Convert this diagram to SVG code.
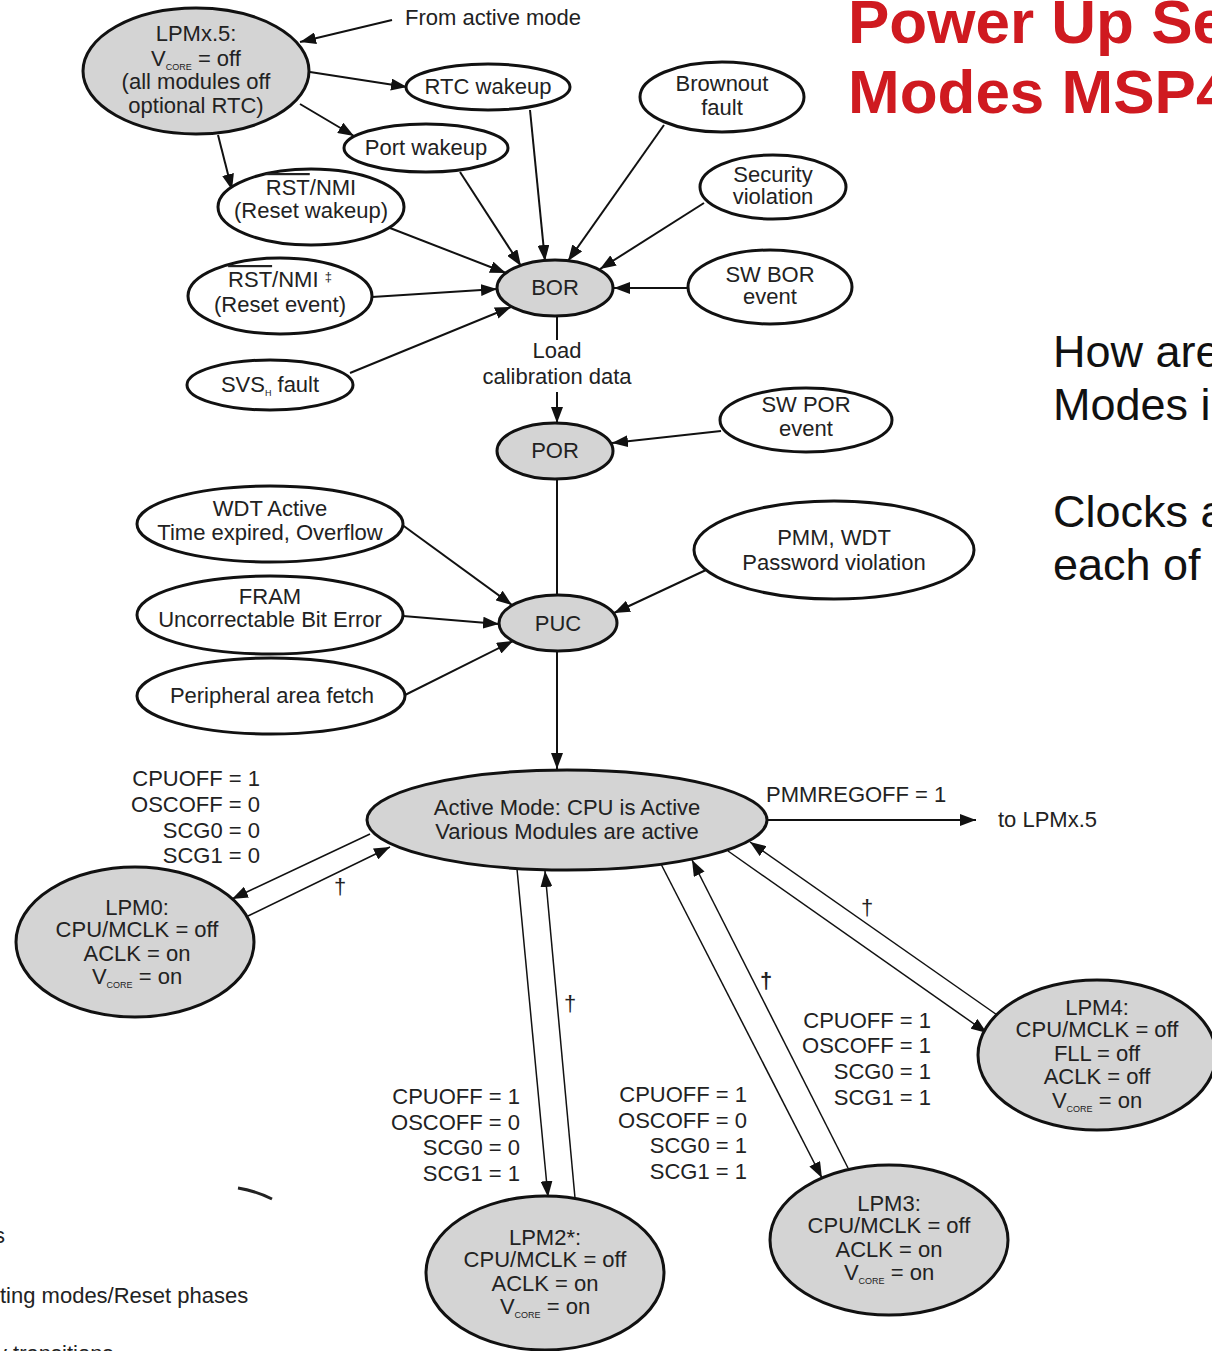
<svg xmlns="http://www.w3.org/2000/svg" width="1212" height="1351" viewBox="0 0 1212 1351">
<style>
text{font-family:"Liberation Sans",Arial,sans-serif;font-size:22px;fill:#222}
.c{text-anchor:middle}
.r{text-anchor:end}
.sub{font-size:9px}
.n{fill:#fff;stroke:#111;stroke-width:3}
.g{fill:#d4d4d4;stroke:#111;stroke-width:3}
.e{stroke:#111;stroke-width:2;fill:none}
.t{stroke:#111;stroke-width:1.5;fill:none}
.a{marker-end:url(#ah)}
.title{font-size:62px;font-weight:bold;fill:#cf1a20}
.side{font-size:45px;fill:#111}
</style>
<defs>
<marker id="ah" viewBox="0 0 16 12" refX="16" refY="6" markerWidth="16" markerHeight="12" markerUnits="userSpaceOnUse" orient="auto">
<path d="M0,0 L16,6 L0,12 z" fill="#111"/>
</marker>
</defs>
<rect width="1212" height="1351" fill="#fff"/>

<g id="connectors">
<line class="e a" x1="392" y1="20" x2="300" y2="42"/>
<line class="e a" x1="310" y1="72" x2="407" y2="87"/>
<line class="e a" x1="300" y1="104" x2="354" y2="136"/>
<line class="e a" x1="218" y1="135" x2="232" y2="190"/>
<line class="e a" x1="530" y1="110" x2="545" y2="261"/>
<line class="e a" x1="460" y1="172" x2="521" y2="266"/>
<line class="e a" x1="664" y1="125" x2="568" y2="261"/>
<line class="e a" x1="704" y1="203" x2="600" y2="269"/>
<line class="e a" x1="390" y1="228" x2="506" y2="273"/>
<line class="e a" x1="688" y1="288" x2="614" y2="288"/>
<line class="e a" x1="372" y1="297" x2="497" y2="289"/>
<line class="e a" x1="350" y1="373" x2="511" y2="307"/>
<line class="e" x1="557" y1="316" x2="557" y2="340"/>
<line class="e a" x1="557" y1="392" x2="557" y2="423"/>
<line class="e a" x1="721" y1="431" x2="612" y2="443"/>
<line class="e" x1="557" y1="480" x2="557" y2="595"/>
<line class="e a" x1="401" y1="524" x2="512" y2="605"/>
<line class="e a" x1="403" y1="616" x2="499" y2="624"/>
<line class="e a" x1="403" y1="696" x2="513" y2="641"/>
<line class="e a" x1="706" y1="570" x2="614" y2="613"/>
<line class="e a" x1="557" y1="652" x2="557" y2="769"/>
<line class="e a" x1="767" y1="820" x2="976" y2="820"/>
<line class="t a" x1="370" y1="834" x2="232" y2="899"/>
<line class="t a" x1="248" y1="916" x2="390" y2="847"/>
<line class="t a" x1="517" y1="869" x2="548" y2="1197"/>
<line class="t a" x1="575" y1="1198" x2="545" y2="871"/>
<line class="t a" x1="661" y1="864" x2="822" y2="1178"/>
<line class="t a" x1="848" y1="1168" x2="692" y2="860"/>
<line class="t a" x1="728" y1="851" x2="987" y2="1033"/>
<line class="t a" x1="1000" y1="1017" x2="750" y2="842"/>
</g>

<g id="lpmx5">
<ellipse class="g" cx="196" cy="71" rx="113" ry="63"/>
<text class="c" x="196" y="41">LPMx.5:</text>
<text class="c" x="196" y="66">V<tspan class="sub" dy="4">CORE</tspan><tspan dy="-4"> = off</tspan></text>
<text class="c" x="196" y="89">(all modules off</text>
<text class="c" x="196" y="113">optional RTC)</text>
</g>
<g id="rtc"><ellipse class="n" cx="488" cy="87" rx="82" ry="23"/><text class="c" x="488" y="94">RTC wakeup</text></g>
<g id="port"><ellipse class="n" cx="426" cy="148" rx="82" ry="24"/><text class="c" x="426" y="155">Port wakeup</text></g>
<g id="brownout"><ellipse class="n" cx="722" cy="97" rx="82" ry="35"/><text class="c" x="722" y="91">Brownout</text><text class="c" x="722" y="115">fault</text></g>
<g id="security"><ellipse class="n" cx="773" cy="187" rx="73" ry="32"/><text class="c" x="773" y="182">Security</text><text class="c" x="773" y="204">violation</text></g>
<g id="rstwake"><ellipse class="n" cx="311" cy="207" rx="93" ry="38"/><text class="c" x="311" y="195"><tspan style="text-decoration:overline">RST</tspan>/NMI</text><text class="c" x="311" y="218">(Reset wakeup)</text></g>
<g id="bor"><ellipse class="g" cx="555" cy="288" rx="58" ry="28"/><text class="c" x="555" y="295">BOR</text></g>
<g id="swbor"><ellipse class="n" cx="770" cy="287" rx="82" ry="37"/><text class="c" x="770" y="282">SW BOR</text><text class="c" x="770" y="304">event</text></g>
<g id="rstevent"><ellipse class="n" cx="280" cy="296" rx="92" ry="38"/><text class="c" x="280" y="287"><tspan style="text-decoration:overline">RST</tspan>/NMI <tspan font-size="13" dy="-6">‡</tspan></text><text class="c" x="280" y="312">(Reset event)</text></g>
<g id="svsh"><ellipse class="n" cx="270" cy="385" rx="83" ry="25"/><text class="c" x="270" y="392">SVS<tspan class="sub" dy="4">H</tspan><tspan dy="-4"> fault</tspan></text></g>
<g id="calib"><text class="c" x="557" y="358">Load</text><text class="c" x="557" y="384">calibration data</text></g>
<g id="por"><ellipse class="g" cx="555" cy="451" rx="58" ry="28"/><text class="c" x="555" y="458">POR</text></g>
<g id="swpor"><ellipse class="n" cx="806" cy="420" rx="86" ry="32"/><text class="c" x="806" y="412">SW POR</text><text class="c" x="806" y="436">event</text></g>
<g id="wdt"><ellipse class="n" cx="270" cy="524" rx="133" ry="38"/><text class="c" x="270" y="516">WDT Active</text><text class="c" x="270" y="540">Time expired, Overflow</text></g>
<g id="pmm"><ellipse class="n" cx="834" cy="550" rx="140" ry="49"/><text class="c" x="834" y="545">PMM, WDT</text><text class="c" x="834" y="570">Password violation</text></g>
<g id="fram"><ellipse class="n" cx="270" cy="615" rx="133" ry="39"/><text class="c" x="270" y="604">FRAM</text><text class="c" x="270" y="627">Uncorrectable Bit Error</text></g>
<g id="puc"><ellipse class="g" cx="558" cy="623" rx="59" ry="28"/><text class="c" x="558" y="631">PUC</text></g>
<g id="periph"><ellipse class="n" cx="271" cy="696" rx="134" ry="38"/><text class="c" x="272" y="703">Peripheral area fetch</text></g>

<g id="active"><ellipse class="g" cx="567" cy="820" rx="200" ry="50"/><text class="c" x="567" y="815">Active Mode: CPU is Active</text><text class="c" x="567" y="839">Various Modules are active</text></g>
<g id="lbl-lpmx5"><text x="766" y="802">PMMREGOFF = 1</text><text x="998" y="827">to LPMx.5</text></g>

<g id="lbl-lpm0">
<text class="r" x="260" y="786">CPUOFF = 1</text>
<text class="r" x="260" y="812">OSCOFF = 0</text>
<text class="r" x="260" y="838">SCG0 = 0</text>
<text class="r" x="260" y="863">SCG1 = 0</text>
<text class="c" x="340" y="894">†</text>
</g>
<g id="lpm0"><ellipse class="g" cx="135" cy="942" rx="119" ry="75"/>
<text class="c" x="137" y="915">LPM0:</text>
<text class="c" x="137" y="937">CPU/MCLK = off</text>
<text class="c" x="137" y="961">ACLK = on</text>
<text class="c" x="137" y="984">V<tspan class="sub" dy="4">CORE</tspan><tspan dy="-4"> = on</tspan></text>
</g>

<g id="lbl-lpm2">
<text class="r" x="520" y="1104">CPUOFF = 1</text>
<text class="r" x="520" y="1130">OSCOFF = 0</text>
<text class="r" x="520" y="1155">SCG0 = 0</text>
<text class="r" x="520" y="1181">SCG1 = 1</text>
<text class="c" x="570" y="1011">†</text>
</g>
<g id="lpm2"><ellipse class="g" cx="545" cy="1273" rx="119" ry="77"/>
<text class="c" x="545" y="1245">LPM2*:</text>
<text class="c" x="545" y="1267">CPU/MCLK = off</text>
<text class="c" x="545" y="1291">ACLK = on</text>
<text class="c" x="545" y="1314">V<tspan class="sub" dy="4">CORE</tspan><tspan dy="-4"> = on</tspan></text>
</g>

<g id="lbl-lpm3">
<text class="r" x="747" y="1102">CPUOFF = 1</text>
<text class="r" x="747" y="1128">OSCOFF = 0</text>
<text class="r" x="747" y="1153">SCG0 = 1</text>
<text class="r" x="747" y="1179">SCG1 = 1</text>
<text class="c" x="766" y="988" font-weight="bold">†</text>
</g>
<g id="lpm3"><ellipse class="g" cx="889" cy="1240" rx="119" ry="75"/>
<text class="c" x="889" y="1211">LPM3:</text>
<text class="c" x="889" y="1233">CPU/MCLK = off</text>
<text class="c" x="889" y="1257">ACLK = on</text>
<text class="c" x="889" y="1280">V<tspan class="sub" dy="4">CORE</tspan><tspan dy="-4"> = on</tspan></text>
</g>

<g id="lbl-lpm4">
<text class="r" x="931" y="1028">CPUOFF = 1</text>
<text class="r" x="931" y="1053">OSCOFF = 1</text>
<text class="r" x="931" y="1079">SCG0 = 1</text>
<text class="r" x="931" y="1105">SCG1 = 1</text>
<text class="c" x="867" y="915">†</text>
</g>
<g id="lpm4"><ellipse class="g" cx="1097" cy="1055" rx="119" ry="75"/>
<text class="c" x="1097" y="1015">LPM4:</text>
<text class="c" x="1097" y="1037">CPU/MCLK = off</text>
<text class="c" x="1097" y="1061">FLL = off</text>
<text class="c" x="1097" y="1084">ACLK = off</text>
<text class="c" x="1097" y="1108">V<tspan class="sub" dy="4">CORE</tspan><tspan dy="-4"> = on</tspan></text>
</g>

<g id="from-active"><text x="405" y="25">From active mode</text></g>

<g id="title">
<text class="title" x="848" y="43">Power Up Se</text>
<text class="title" x="848" y="113">Modes MSP4</text>
</g>
<g id="side">
<text class="side" x="1053" y="367">How are</text>
<text class="side" x="1053" y="420">Modes i</text>
<text class="side" x="1053" y="527">Clocks a</text>
<text class="side" x="1053" y="580">each of</text>
</g>
<g id="legend-fragment">
<path d="M238,1188 Q256,1191 272,1199" stroke="#222" stroke-width="3" fill="none"/>
<text x="-6" y="1243" font-size="20">s</text>
<text x="0" y="1303" font-size="20">ting modes/Reset phases</text>
<text x="-4" y="1361" font-size="20">y transitions</text>
</g>
</svg>
